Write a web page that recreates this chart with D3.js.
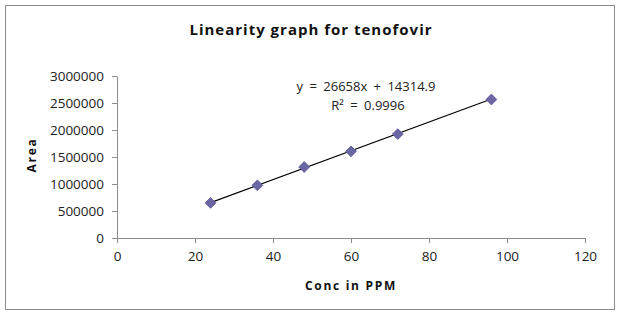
<!DOCTYPE html>
<html>
<head>
<meta charset="utf-8">
<script src="https://cdn.jsdelivr.net/npm/d3@7"></script>
<style>
  body { margin: 0; background: #fff; }
  text { font-family: "Open Sans", "Liberation Sans", sans-serif; }
</style>
</head>
<body>
<svg width="621" height="314"></svg>
<script>
// data
var conc = [24, 36, 48, 60, 72, 96];
var area = [650000, 975000, 1315000, 1605000, 1925000, 2565000];
var slope = 26658, intercept = 14314.9;
var xTicks = [0, 20, 40, 60, 80, 100, 120];
var yTicks = [0, 500000, 1000000, 1500000, 2000000, 2500000, 3000000];

var svg = d3.select("svg");

// outer chart border
svg.append("rect")
  .attr("x", 5.5).attr("y", 5.5)
  .attr("width", 609).attr("height", 304)
  .attr("fill", "#fff")
  .attr("stroke", "#8c8c8c")
  .attr("stroke-width", 1);

var plotL = 117, plotR = 585, plotT = 76, plotB = 238;

var x = d3.scaleLinear().domain([0, 120]).range([plotL, plotR]);
var y = d3.scaleLinear().domain([0, 3000000]).range([plotB, plotT]);

var xAxis = svg.append("g")
  .attr("transform", "translate(0," + plotB + ")")
  .call(d3.axisBottom(x).tickValues(xTicks).tickSize(5).tickPadding(8).tickSizeOuter(0));

var yAxis = svg.append("g")
  .attr("transform", "translate(" + plotL + ",0)")
  .call(d3.axisLeft(y).tickValues(yTicks).tickSize(5).tickPadding(8).tickSizeOuter(0)
    .tickFormat(d3.format("d")));

[xAxis, yAxis].forEach(function (a) {
  a.select(".domain").attr("stroke", "#8c8c8c");
  a.selectAll(".tick line").attr("stroke", "#8c8c8c");
  a.selectAll(".tick text")
    .attr("fill", "#222")
    .attr("font-size", "13.5px")
    .style("font-family", "'Open Sans', sans-serif");
});

// trendline
svg.append("line")
  .attr("x1", x(d3.min(conc))).attr("y1", y(slope * d3.min(conc) + intercept))
  .attr("x2", x(d3.max(conc))).attr("y2", y(slope * d3.max(conc) + intercept))
  .attr("stroke", "#000")
  .attr("stroke-width", 1.2);

// diamond markers
svg.selectAll(".pt")
  .data(conc)
  .enter()
  .append("path")
  .attr("class", "pt")
  .attr("d", d3.symbol().type(d3.symbolDiamond2).size(75))
  .attr("transform", function (d, i) {
    return "translate(" + x(d) + "," + y(area[i]) + ")";
  })
  .attr("fill", "#6a66a3")
  .attr("stroke", "#5a5690")
  .attr("stroke-width", 0.8);

// equation
svg.append("text")
  .attr("x", 366).attr("y", 91)
  .attr("text-anchor", "middle")
  .attr("font-size", "13px")
  .attr("word-spacing", "3px")
  .attr("fill", "#222")
  .text("y = 26658x + 14314.9");

svg.append("text")
  .attr("x", 368).attr("y", 110)
  .attr("text-anchor", "middle")
  .attr("font-size", "13px")
  .attr("word-spacing", "3px")
  .attr("fill", "#222")
  .text("R² = 0.9996");

// title
svg.append("text")
  .attr("x", 311).attr("y", 35)
  .attr("text-anchor", "middle")
  .attr("font-size", "15px")
  .attr("font-weight", "bold")
  .attr("letter-spacing", "1px")
  .attr("fill", "#111")
  .text("Linearity graph for tenofovir");

// axis titles
svg.append("text")
  .attr("x", 351).attr("y", 290)
  .attr("text-anchor", "middle")
  .attr("font-size", "12px")
  .attr("font-weight", "bold")
  .attr("letter-spacing", "1.7px")
  .attr("fill", "#111")
  .text("Conc in PPM");

svg.append("text")
  .attr("transform", "translate(36,155) rotate(-90)")
  .attr("text-anchor", "middle")
  .attr("font-size", "12px")
  .attr("font-weight", "bold")
  .attr("letter-spacing", "1.7px")
  .attr("fill", "#111")
  .text("Area");
</script>
</body>
</html>
